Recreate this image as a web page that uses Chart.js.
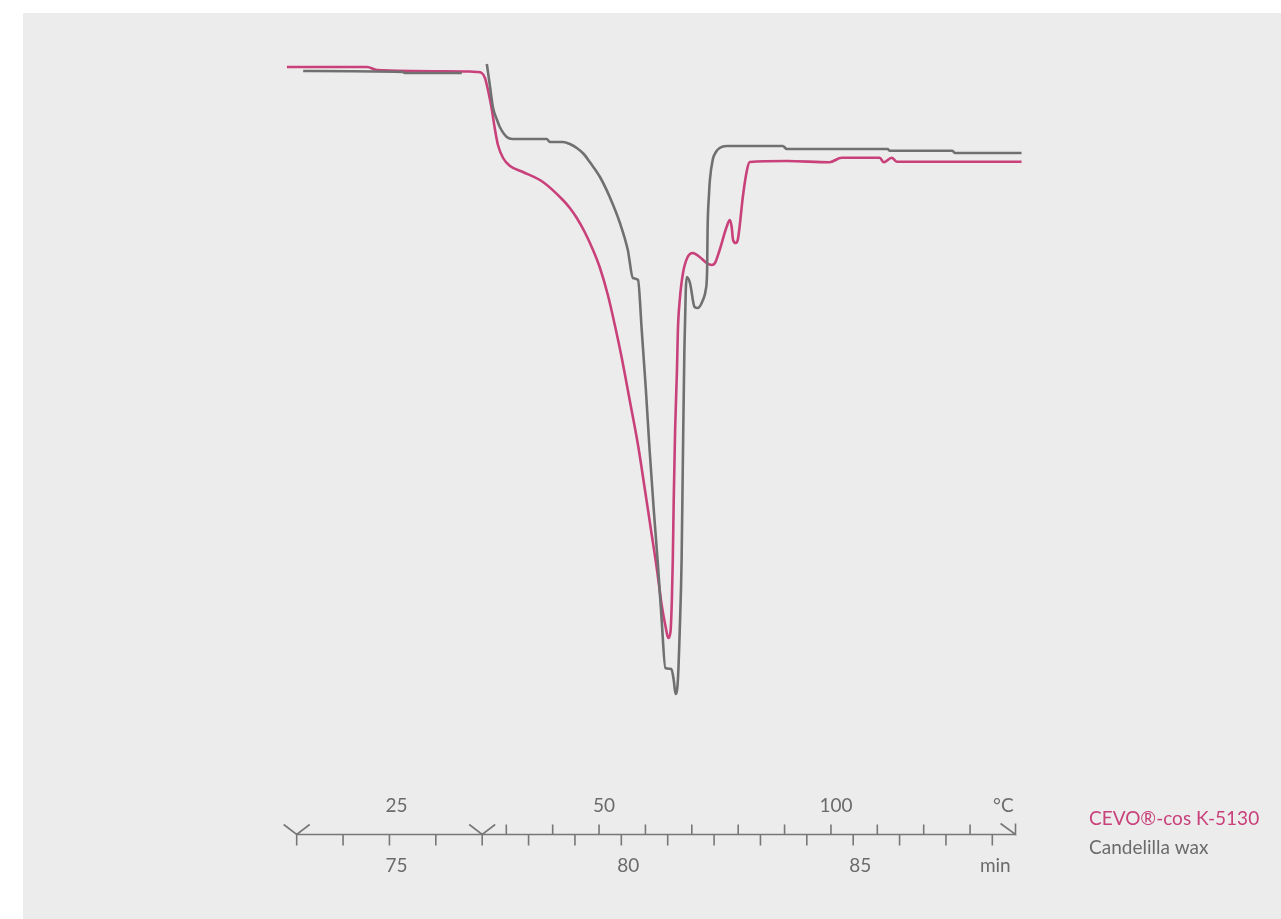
<!DOCTYPE html>
<html>
<head>
<meta charset="utf-8">
<script src="https://cdn.jsdelivr.net/npm/chart.js@4"></script>
<style>
  html, body { margin: 0; padding: 0; background: #ffffff; }
  #wrap { position: absolute; left: 0; top: 0; width: 1281px; height: 919px; }
</style>
</head>
<body>
<div id="wrap"><canvas id="c" width="1281" height="919"></canvas></div>
<script>
// ---------------- DATA ----------------
// CEVO®-cos K-5130 : [time (min), heat flow (arb. units)]
const cevoTime = [72.79, 74.52, 74.73, 76.73, 76.89, 76.99, 77.06, 77.10, 77.17, 77.21,
  77.27, 77.34, 77.45, 77.60, 77.88, 78.31, 78.74, 78.89, 79.04, 79.21,
  79.39, 79.54, 79.71, 79.86, 80.01, 80.18, 80.36, 80.51, 80.64, 80.77,
  80.87, 80.96, 81.01, 81.06, 81.09, 81.11, 81.13, 81.16, 81.20, 81.22,
  81.26, 81.33, 81.43, 81.54, 81.69, 81.84, 81.95, 82.02, 82.12, 82.27,
  82.34, 82.38, 82.41, 82.47, 82.51, 82.55, 82.62, 82.71, 82.77, 83.57,
  84.49, 84.75, 85.57, 85.66, 85.83, 85.94, 88.63];
const cevoFlow = [67.3, 67.3, 67.0, 66.85, 66.8, 66.7, 66.2, 65.5, 64.0, 63.0,
  61.2, 59.5, 58.2, 57.4, 56.8, 55.8, 54.0, 53.2, 52.2, 50.8,
  49.0, 47.2, 44.5, 41.5, 38.2, 34.0, 29.5, 25.0, 21.0, 17.0,
  13.5, 11.2, 10.2, 10.8, 14.0, 18.0, 24.0, 31.0, 37.0, 41.0,
  44.0, 46.7, 48.3, 48.7, 48.3, 47.7, 47.5, 47.7, 49.0, 51.3,
  52.0, 51.3, 50.0, 49.7, 50.0, 51.3, 54.3, 57.0, 57.8, 57.9,
  57.77, 58.23, 58.23, 57.77, 58.23, 57.83, 57.83];

// Candelilla wax (null = gap in the recording at the axis break)
const candTime = [73.14, 75.29, 75.33, 76.56, 76.8,
  77.10, 77.17, 77.23, 77.32, 77.38, 77.53, 77.66, 78.39, 78.46, 78.74,
  78.89, 79.04, 79.19, 79.32, 79.54, 79.75, 79.97, 80.14, 80.25, 80.36,
  80.44, 80.53, 80.61, 80.70, 80.79, 80.87, 80.95, 81.08, 81.13, 81.17,
  81.22, 81.26, 81.30, 81.33, 81.36, 81.39, 81.41, 81.48, 81.58, 81.65,
  81.76, 81.82, 81.85, 81.86, 81.89, 81.91, 81.97, 82.04, 82.12, 82.27,
  83.48, 83.57, 85.74, 85.79, 87.14, 87.19, 88.63];
const candFlow = [66.9, 66.8, 66.7, 66.7, null,
  67.6, 65.3, 63.3, 62.0, 61.3, 60.3, 60.1, 60.1, 59.8, 59.8,
  59.6, 59.2, 58.6, 57.8, 56.3, 54.3, 51.7, 49.0, 46.2, 46.0,
  41.0, 35.0, 29.0, 23.0, 17.5, 12.0, 7.2, 7.1, 6.0, 4.6,
  6.0, 11.0, 18.0, 29.0, 39.0, 45.0, 46.3, 45.7, 43.3, 43.2,
  44.0, 45.0, 47.0, 51.0, 54.5, 56.0, 58.0, 58.8, 59.2, 59.4,
  59.4, 59.1, 59.1, 58.93, 58.93, 58.7, 58.7];

// Axis: time ticks (min) and temperature ticks (°C)
const minuteTicks = [73, 74, 75, 76, 77, 78, 79, 80, 81, 82, 83, 84, 85, 86, 87, 88];
const minuteLabels = [75, 80, 85];
const breakMarks = [73, 77];
const axisEndMin = 88.5;
const tempTicks = [30, 40, 50, 60, 70, 80, 90, 100, 110, 120, 130];
const tempLabels = [50, 100];
const isoTempLabel = 25;         // isothermal hold, shown at 75 min
const isoTempLabelMin = 75;
const rampStartMin = 77.52;      // time at which 30 °C is reached
const rampStartTemp = 30;
const heatingRate = 10;          // K/min

const legendNames = ['CEVO®-cos K-5130', 'Candelilla wax'];

// ---------------- STYLE ----------------
const PINK = '#c8417b';
const GREY = '#707070';
const AXIS = '#777777';
const TEXT = '#6b6b6b';
const FONT = '19px Lato, "Open Sans", sans-serif';

function toXY(xs, ys) { return xs.map((x, i) => ({ x: x, y: ys[i] })); }
function tempToMin(t) { return rampStartMin + (t - rampStartTemp) / heatingRate; }

const bgPlugin = {
  id: 'bg',
  beforeDraw(chart) {
    const ctx = chart.ctx;
    ctx.save();
    ctx.fillStyle = '#ececec';
    ctx.fillRect(23, 13, chart.width - 23, chart.height - 13);
    ctx.restore();
  }
};

const axisPlugin = {
  id: 'dualAxis',
  afterDraw(chart) {
    const ctx = chart.ctx;
    const sx = chart.scales.x;
    const px = v => sx.getPixelForValue(v);
    const y0 = 834.5;
    ctx.save();
    ctx.strokeStyle = AXIS;
    ctx.lineWidth = 1.6;
    ctx.lineCap = 'butt';
    ctx.beginPath();
    ctx.moveTo(px(minuteTicks[0]), y0);
    ctx.lineTo(px(axisEndMin), y0);
    minuteTicks.forEach(m => { ctx.moveTo(px(m), y0); ctx.lineTo(px(m), y0 + 11); });
    tempTicks.forEach(t => { const x = px(tempToMin(t)); ctx.moveTo(x, y0); ctx.lineTo(x, y0 - 10); });
    breakMarks.forEach(m => {
      const x = px(m);
      ctx.moveTo(x - 13, y0 - 10); ctx.lineTo(x, y0); ctx.lineTo(x + 13, y0 - 10);
    });
    const xe = px(axisEndMin);
    ctx.moveTo(xe - 15, y0 - 11); ctx.lineTo(xe, y0); ctx.lineTo(xe, y0 - 11);
    ctx.stroke();

    ctx.fillStyle = TEXT;
    ctx.font = FONT;
    ctx.textAlign = 'center';
    ctx.textBaseline = 'middle';
    minuteLabels.forEach(m => ctx.fillText(String(m), px(m) + 7, 866));
    ctx.fillText('min', px(88) + 3, 866);
    ctx.fillText(String(isoTempLabel), px(isoTempLabelMin) + 7, 806);
    tempLabels.forEach(t => ctx.fillText(String(t), px(tempToMin(t)) + 5, 806));
    ctx.fillText('°C', px(88) + 11, 806);

    ctx.textAlign = 'left';
    ctx.fillStyle = PINK;
    ctx.fillText(legendNames[0], 1089, 819);
    ctx.fillStyle = TEXT;
    ctx.fillText(legendNames[1], 1089, 848);
    ctx.restore();
  }
};

new Chart(document.getElementById('c'), {
  type: 'line',
  data: {
    datasets: [
      {
        label: legendNames[1],
        data: toXY(candTime, candFlow),
        borderColor: GREY,
        borderWidth: 2.6,
        pointRadius: 0,
        cubicInterpolationMode: 'monotone',
        spanGaps: false,
        fill: false
      },
      {
        label: legendNames[0],
        data: toXY(cevoTime, cevoFlow),
        borderColor: PINK,
        borderWidth: 2.6,
        pointRadius: 0,
        cubicInterpolationMode: 'monotone',
        fill: false
      }
    ]
  },
  options: {
    responsive: false,
    animation: false,
    events: [],
    layout: { padding: { left: 273.5, right: 242.3, top: 40, bottom: 179 } },
    scales: {
      x: { type: 'linear', min: 72.5, max: 89, display: false },
      y: { type: 'linear', min: 0, max: 70, display: false }
    },
    plugins: { legend: { display: false }, tooltip: { enabled: false } }
  },
  plugins: [bgPlugin, axisPlugin]
});
</script>
</body>
</html>
